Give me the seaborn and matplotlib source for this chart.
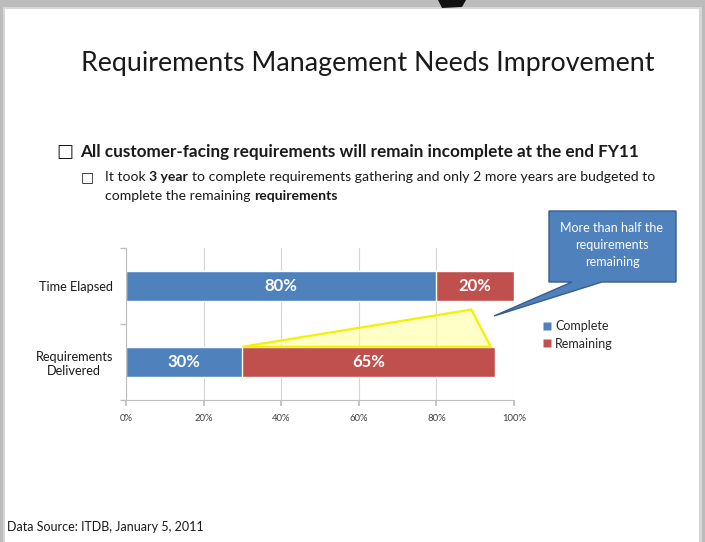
import matplotlib
matplotlib.use('Agg')
import matplotlib.pyplot as plt
from matplotlib.patches import Polygon, Rectangle
from matplotlib.lines import Line2D
import pandas as pd
import seaborn as sns

# chart data
categories = ['Time Elapsed', 'Requirements\nDelivered']
complete = [80, 30]
remaining = [20, 65]
series = ['Complete', 'Remaining']
x_ticks = [0, 20, 40, 60, 80, 100]
x_tick_labels = ['0%', '20%', '40%', '60%', '80%', '100%']

# slide text
title = 'Requirements Management Needs Improvement'
bullet_main = 'All customer-facing requirements will remain incomplete at the end FY11'
bullet_sub_1 = [('It took', False), ('3 year', True),
                ('to complete requirements gathering and only 2 more years are budgeted to', False)]
bullet_sub_2 = [('complete the remaining', False), ('requirements', True)]
callout_text = 'More than half the\nrequirements\nremaining'
source_text = 'Data Source: ITDB, January 5, 2011'

blue = '#4F81BD'
red = '#C0504D'
W, H = 705, 542

sns.set_theme(style='white')
plt.rcParams['font.family'] = ['Lato', 'DejaVu Sans']

fig = plt.figure(figsize=(W / 100, H / 100), dpi=100, facecolor='#bcbcbc')


def fx(x):
    return x / W


def fy(y):
    return 1 - y / H


# grey frame, soft inner edge, white slide page
fig.add_artist(Rectangle((fx(3), 0), fx(699), fy(7), transform=fig.transFigure,
                         facecolor='#d6d6d6', edgecolor='none', zorder=-3))
fig.add_artist(Rectangle((fx(5), 0), fx(694), fy(9), transform=fig.transFigure,
                         facecolor='white', edgecolor='none', zorder=-2))
fig.add_artist(Polygon([(fx(438), fy(0)), (fx(466), fy(0)), (fx(462), fy(7)), (fx(442), fy(8))],
                       transform=fig.transFigure, facecolor='#111111', edgecolor='none', zorder=-1))

# ---- stacked bar chart
ax = fig.add_axes([fx(126), fy(400), fx(514) - fx(126), fy(248) - fy(400)])
ax.set_zorder(1)
df = pd.DataFrame({'category': categories, 'Complete': complete, 'Remaining': remaining})
df['Total'] = df['Complete'] + df['Remaining']
sns.barplot(data=df, x='Total', y='category', color=red, width=0.4, saturation=1,
            errorbar=None, orient='h', ax=ax, zorder=2)
sns.barplot(data=df, x='Complete', y='category', color=blue, width=0.4, saturation=1,
            errorbar=None, orient='h', ax=ax, zorder=2)

for i in range(len(categories)):
    c, r = complete[i], remaining[i]
    ax.text(c / 2, i, f'{c}%', color='white', fontsize=12, fontweight='bold',
            ha='center', va='center', zorder=3)
    ax.text(c + r / 2, i, f'{r}%', color='white', fontsize=12, fontweight='bold',
            ha='center', va='center', zorder=3)

ax.set_xlim(0, 100)
ax.set_ylim(1.5, -0.5)
ax.set_xticks(x_ticks)
ax.set_xticklabels(x_tick_labels, fontsize=6.8, color='#404040')
ax.set_xlabel('')
ax.set_ylabel('')
ax.grid(axis='x', color='#d4d4d4', lw=0.8)
ax.set_axisbelow(True)
ax.set_facecolor('none')
for s in ['top', 'right']:
    ax.spines[s].set_visible(False)
for s in ['left', 'bottom']:
    ax.spines[s].set_color('#bdbdbd')
    ax.spines[s].set_linewidth(0.8)
ax.tick_params(axis='x', length=4, color='#bdbdbd', pad=6, bottom=True)
ax.tick_params(axis='y', which='major', length=0, pad=9.4, labelsize=9.2, labelcolor='#1a1a1a')
ax.set_yticks([-0.5, 0.5, 1.5], minor=True)
ax.tick_params(axis='y', which='minor', length=4, color='#bdbdbd', left=True)
for lbl in ax.get_yticklabels():
    lbl.set_multialignment('center')

# yellow highlight wedge over the remaining requirements
top = 1 - 0.2
wedge = [(complete[1], top), (89, 0.31), (complete[1] + remaining[1] - 1, top)]
ax.add_patch(Polygon(wedge, closed=True, facecolor='#FFFF99', alpha=0.55, edgecolor='none', zorder=4))
ax.add_patch(Polygon(wedge, closed=True, facecolor='none', edgecolor='#F2F200', lw=1.6, zorder=4))

# legend
handles = [Line2D([], [], marker='s', ls='none', markersize=6, markerfacecolor=c,
                  markeredgecolor='none') for c in (blue, red)]
fig.legend(handles, series, loc='center left', bbox_to_anchor=(fx(538), fy(335)), frameon=False,
           fontsize=9, handlelength=0.6, handletextpad=0.35, labelspacing=0.45, borderaxespad=0)

# callout
pts = [(549, 211), (676, 211), (676, 282), (602, 282), (494, 316), (572, 282), (549, 282)]
fig.add_artist(Polygon([(fx(x), fy(y)) for x, y in pts], closed=True, transform=fig.transFigure,
                       facecolor=blue, edgecolor='#385D8A', lw=1, zorder=5))
fig.text(fx(612), fy(245), callout_text, color='white', fontsize=9, ha='center', va='center',
         linespacing=1.45, zorder=6)

# ---- slide text
fig.text(fx(81), fy(63), title, fontsize=19.3, color='#1a1a1a', ha='left', va='center')

fig.text(fx(56), fy(152), '\u25a1', family='DejaVu Sans', fontsize=13, color='#1a1a1a',
         ha='left', va='center')
fig.text(fx(80), fy(152), bullet_main, fontsize=12.35, fontweight='bold', color='#1a1a1a',
         ha='left', va='center')

fig.text(fx(81), fy(177), '\u25a1', family='DejaVu Sans', fontsize=10, color='#1a1a1a',
         ha='left', va='center')

renderer = fig.canvas.get_renderer()


def rich_line(x, y, parts, size):
    gap = None
    for s, bold in parts:
        t = fig.text(x, y, s, fontsize=size, fontweight='bold' if bold else 'normal',
                     color='#1a1a1a', ha='left', va='center')
        if gap is None:
            a = fig.text(0, 0, 'x x', fontsize=size).get_window_extent(renderer).width
            b = fig.text(0, 0, 'xx', fontsize=size).get_window_extent(renderer).width
            gap = (a - b) / fig.bbox.width
            for tt in fig.texts[-2:]:
                tt.remove()
        x += t.get_window_extent(renderer).width / fig.bbox.width + gap


rich_line(fx(105), fy(177), bullet_sub_1, 10.1)
rich_line(fx(105), fy(196), bullet_sub_2, 10.1)

fig.text(fx(7), fy(527), source_text, fontsize=9, color='#1a1a1a', ha='left', va='center')

fig.savefig('out.png', dpi=100, facecolor=fig.get_facecolor())
